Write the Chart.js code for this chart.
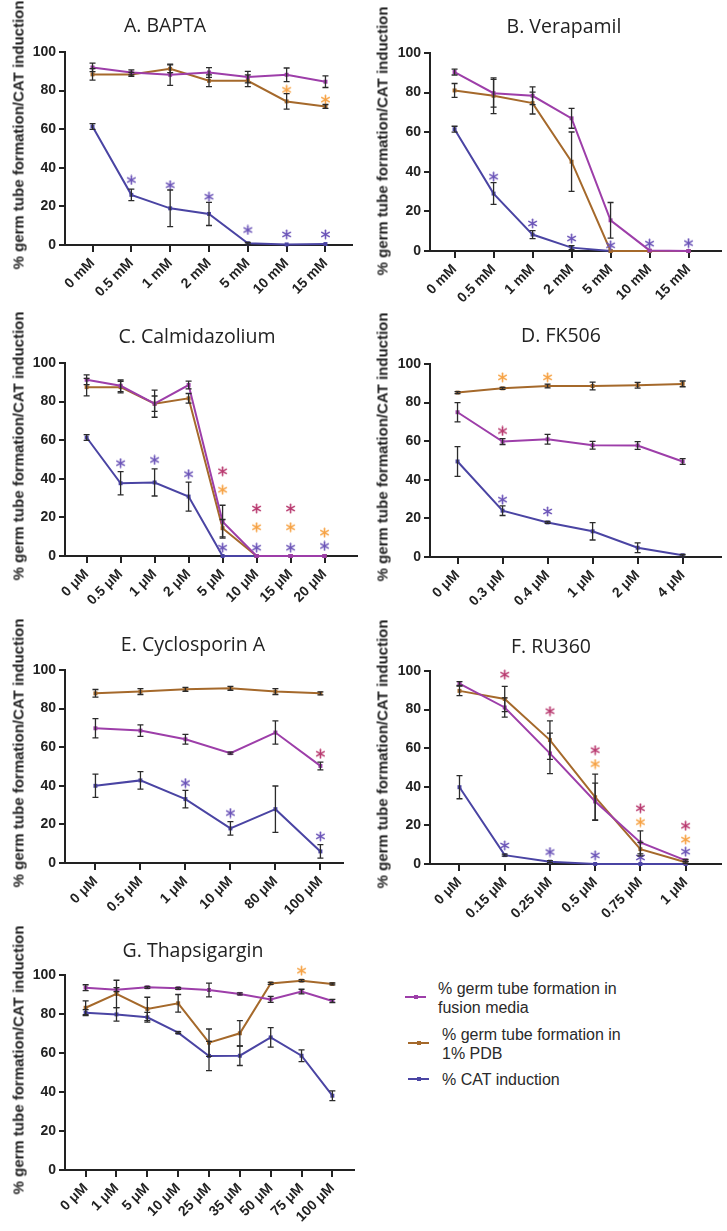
<!DOCTYPE html>
<html><head><meta charset="utf-8">
<script src="https://cdn.jsdelivr.net/npm/chart.js@4.4.1/dist/chart.umd.min.js"></script>
<style>
html,body{margin:0;padding:0;background:#fff;}
body{width:727px;height:1231px;position:relative;overflow:hidden;font-family:"Liberation Sans",Arial,sans-serif;}
.cv{position:absolute;}
.title{position:absolute;font-family:"Open Sans",sans-serif;font-size:19.5px;color:#222;transform:translate(-50%,-50%);white-space:nowrap;}
.ylab{position:absolute;font-weight:bold;font-size:15px;color:#222;white-space:nowrap;transform:translate(-50%,-50%) rotate(-90deg);}
.legtxt{position:absolute;font-size:16px;line-height:19px;color:#2a2a2a;white-space:nowrap;}
.legline{position:absolute;height:2px;width:21px;}
.legpt{position:absolute;width:4px;height:4px;left:8.5px;top:-1px;}
</style>
</head><body>
<script>
// ---------- DATA ----------
const yTicks = [0, 20, 40, 60, 80, 100];
const yAxisTitle = '% germ tube formation/CAT induction';

// A. BAPTA
const catsA = ['0 mM','0.5 mM','1 mM','2 mM','5 mM','10 mM','15 mM'];
const fusA = [92.0, 89.4, 88.2, 89.4, 87.0, 88.2, 84.6];
const fusA_err = [2.2, 1.3, 5.5, 2.5, 3, 3.5, 3];
const pdbA = [88.4, 88.4, 91.3, 85.1, 85.1, 74.4, 71.8];
const pdbA_err = [3, 1, 2, 3, 3, 4, 1];
const catA = [61.4, 26, 19, 16.1, 0.9, 0.3, 0.5];
const catA_err = [1.5, 3, 9.5, 6, 0.5, 0, 0];
const starFusA = [null, null, null, null, null, null, null];
const starPdbA = [null, null, null, null, null, 80.4, 75.3];
const starCatA = [null, 33.7, 31, 25, 7.8, 5.5, 5.5];

// B. Verapamil
const catsB = ['0 mM','0.5 mM','1 mM','2 mM','5 mM','10 mM','15 mM'];
const fusB = [90.4, 79.7, 78.4, 67, 15.5, 0.3, 0];
const fusB_err = [1.5, 7, 4.5, 5, 9, 0, 0];
const pdbB = [81.1, 78.4, 74.7, 45.1, 0, 0, 0];
const pdbB_err = [3.5, 9, 5.5, 15, 0, 0, 0];
const catB = [61.5, 29, 8.3, 1.7, 0, 0, 0];
const catB_err = [1.5, 5.5, 2, 1, 0, 0, 0];
const starFusB = [null, null, null, null, null, null, null];
const starPdbB = [null, null, null, null, null, null, null];
const starCatB = [null, 37.5, 13.9, 6.3, 2.9, 3.7, 4];

// C. Calmidazolium
const catsC = ['0 μM','0.5 μM','1 μM','2 μM','5 μM','10 μM','15 μM','20 μM'];
const fusC = [91.3, 88.2, 78.9, 88.6, 17.8, 0, 0, 0];
const fusC_err = [2.5, 3, 7, 2, 8.5, 0, 0, 0];
const pdbC = [87.5, 87.5, 78.9, 81.7, 14.4, 0, 0, 0];
const pdbC_err = [4.5, 3, 4, 2.5, 4.5, 0, 0, 0];
const catC = [61.4, 37.7, 38.1, 30.8, 0, 0, 0, 0];
const catC_err = [1.5, 6, 7, 7.5, 0, 0, 0, 0];
const starFusC = [null, null, null, null, 43.9, 24.6, 24.6, null];
const starPdbC = [null, null, null, null, 34.3, 14.9, 14.9, 12.1];
const starCatC = [null, 48.1, 49.8, 42.4, 4.3, 4.3, 4.3, 5.2];

// D. FK506
const catsD = ['0 μM','0.3 μM','0.4 μM','1 μM','2 μM','4 μM'];
const fusD = [75, 59.8, 61, 57.9, 57.8, 49.5];
const fusD_err = [5, 1.5, 2.5, 2, 2, 1.5];
const pdbD = [85.2, 87.4, 88.6, 88.6, 89, 89.7];
const pdbD_err = [0.5, 0.5, 1, 2, 1.5, 1.5];
const catD = [49.5, 24, 17.9, 13.3, 4.8, 0.9];
const catD_err = [7.7, 2.5, 0.5, 4.5, 2.5, 0.5];
const starFusD = [null, 65.3, null, null, null, null];
const starPdbD = [null, 93.1, 93.1, null, null, null];
const starCatD = [null, 29.7, 23.6, null, null, null];

// E. Cyclosporin A
const catsE = ['0 μM','0.5 μM','1 μM','10 μM','80 μM','100 μM'];
const fusE = [69.8, 68.6, 64.1, 56.9, 67.6, 50.3];
const fusE_err = [5, 3, 2.5, 0.5, 6, 2];
const pdbE = [87.9, 88.8, 90, 90.5, 88.8, 87.9];
const pdbE_err = [2, 1.5, 1, 1, 1.5, 0.8];
const catE = [40, 42.8, 33.1, 17.9, 27.9, 6];
const catE_err = [6, 4.5, 4.5, 3.5, 12, 3.5];
const starFusE = [null, null, null, null, null, 56.6];
const starPdbE = [null, null, null, null, null, null];
const starCatE = [null, null, 41.4, 25.9, null, 13.8];

// F. RU360
const catsF = ['0 μM','0.15 μM','0.25 μM','0.5 μM','0.75 μM','1 μM'];
const fusF = [93.5, 81.1, 57.3, 32.4, 11.2, 1.9];
const fusF_err = [1, 5, 10.5, 9.5, 6, 0.5];
const pdbF = [89.7, 85.5, 64.2, 34.6, 7.7, 0.9];
const pdbF_err = [2.5, 6.5, 10, 12, 3.5, 0.5];
const catF = [39.8, 4.6, 1.2, 0, 0, 0];
const catF_err = [6, 0.5, 0.5, 0, 0, 0];
const starFusF = [null, 98.1, 79.2, 59, 28.9, 19.8];
const starPdbF = [null, null, null, 51.8, 21.7, 12.6];
const starCatF = [null, 9.6, 6.2, 4.5, 3.4, 6.4];

// G. Thapsigargin
const catsG = ['0 μM','1 μM','5 μM','10 μM','25 μM','35 μM','50 μM','75 μM','100 μM'];
const fusG = [93.5, 92.5, 93.7, 93.2, 92.3, 90.3, 87.5, 91.5, 86.7];
const fusG_err = [1.5, 1, 0.5, 0.5, 3.5, 0.5, 1.5, 1.2, 0.8];
const pdbG = [83.2, 90.3, 82.6, 85.5, 65.3, 70.1, 95.7, 97.1, 95.4];
const pdbG_err = [3.5, 7, 6, 4.5, 7, 6.5, 0.5, 0.5, 0.5];
const catG = [80.7, 79.8, 78.3, 70.4, 58.5, 58.6, 68, 58.6, 38.1];
const catG_err = [1.5, 3.5, 2.5, 0.5, 7.5, 5, 5, 3, 2.5];
const starFusG = [null, null, null, null, null, null, null, null, null];
const starPdbG = [null, null, null, null, null, null, null, 102.2, null];
const starCatG = [null, null, null, null, null, null, null, null, null];

// ---------- STYLE / LAYOUT ----------
const COL = {fus:'#9d3ea9', pdb:'#a5692b', cat:'#4a44a3'};
const STAR = {fus:'#b8396f', pdb:'#f6a244', cat:'#6c55b8'};
const FONT = '"Liberation Sans", Arial, sans-serif';
const WY = 50, PT = 16;

// asterisk glyph used as point style
function asterisk(color){
  const c = document.createElement('canvas');
  c.width = 11; c.height = 11;
  const x = c.getContext('2d');
  x.strokeStyle = color; x.lineWidth = 1.6; x.lineCap = 'round';
  for (let k = 0; k < 3; k++){
    const a = Math.PI/2 + k*Math.PI/3;
    x.beginPath();
    x.moveTo(5.5 + 4.3*Math.cos(a), 5.5 + 4.3*Math.sin(a));
    x.lineTo(5.5 - 4.3*Math.cos(a), 5.5 - 4.3*Math.sin(a));
    x.stroke();
  }
  return c;
}
const STARIMG = {fus:asterisk(STAR.fus), pdb:asterisk(STAR.pdb), cat:asterisk(STAR.cat)};

const panels = [
  {title:'A. BAPTA', cats:catsA, s:[fusA,fusA_err,pdbA,pdbA_err,catA,catA_err,starFusA,starPdbA,starCatA],
   g:{L:65,R:357,top:52,bottom:245,x0:93,xn:330,tx:165,ty:24,lx:18,hx:68}},
  {title:'B. Verapamil', cats:catsB, s:[fusB,fusB_err,pdbB,pdbB_err,catB,catB_err,starFusB,starPdbB,starCatB],
   g:{L:430,R:726,top:53,bottom:251,x0:455,xn:693,tx:564,ty:25,lx:382,hx:68}},
  {title:'C. Calmidazolium', cats:catsC, s:[fusC,fusC_err,pdbC,pdbC_err,catC,catC_err,starFusC,starPdbC,starCatC],
   g:{L:65,R:362,top:363,bottom:556,x0:87,xn:329,tx:197,ty:335,lx:18,hx:68}},
  {title:'D. FK506', cats:catsD, s:[fusD,fusD_err,pdbD,pdbD_err,catD,catD_err,starFusD,starPdbD,starCatD],
   g:{L:430,R:726,top:364,bottom:557,x0:458,xn:687,tx:561,ty:334,lx:382,hx:68}},
  {title:'E. Cyclosporin A', cats:catsE, s:[fusE,fusE_err,pdbE,pdbE_err,catE,catE_err,starFusE,starPdbE,starCatE],
   g:{L:65,R:348,top:670,bottom:863,x0:96,xn:325,tx:193,ty:643,lx:18,hx:68}},
  {title:'F. RU360', cats:catsF, s:[fusF,fusF_err,pdbF,pdbF_err,catF,catF_err,starFusF,starPdbF,starCatF],
   g:{L:430,R:726,top:671,bottom:864,x0:460,xn:690,tx:551,ty:645,lx:382,hx:68}},
  {title:'G. Thapsigargin', cats:catsG, s:[fusG,fusG_err,pdbG,pdbG_err,catG,catG_err,starFusG,starPdbG,starCatG],
   g:{L:65,R:359,top:975,bottom:1170,x0:86,xn:337,tx:193,ty:949,lx:18,hx:58}}
];

const errorBars = {
  id:'errorBars',
  afterDatasetsDraw(chart){
    const {ctx} = chart, x = chart.scales.x, y = chart.scales.y;
    ctx.save();
    ctx.strokeStyle = '#2b2b2b'; ctx.lineWidth = 1.3;
    chart.data.datasets.forEach(ds => {
      if (!ds.errors) return;
      ds.data.forEach((p, i) => {
        const e = ds.errors[i];
        if (!e) return;
        const px = x.getPixelForValue(p.x);
        const y1 = y.getPixelForValue(p.y + e);
        const y2 = y.getPixelForValue(Math.max(0, p.y - e));
        ctx.beginPath();
        ctx.moveTo(px, y1); ctx.lineTo(px, y2);
        ctx.moveTo(px - 3, y1); ctx.lineTo(px + 3, y1);
        ctx.moveTo(px - 3, y2); ctx.lineTo(px + 3, y2);
        ctx.stroke();
      });
    });
    ctx.restore();
  }
};

function pts(arr){ return arr.map((v,i)=> v==null ? null : {x:i, y:v}).filter(p => p); }
function lineDs(arr, err, color){
  return {data:pts(arr), errors:err, borderColor:color, backgroundColor:color, borderWidth:2,
          pointStyle:'rect', pointRadius:2.8, pointBorderWidth:0, tension:0, clip:false, order:1};
}
function starDs(arr, img, color){
  return {data:pts(arr), showLine:false, borderColor:color, backgroundColor:color,
          pointStyle:img, pointRadius:5, clip:false, order:-1};
}

panels.forEach(p => {
  const g = p.g, n = p.cats.length;
  const sp = (g.xn - g.x0) / (n - 1);
  const xmin = -(g.x0 - g.L) / sp;
  const xmax = (n - 1) + (g.R - g.xn) / sp;
  const w = g.R - g.L + WY + 1;
  const h = g.bottom - g.top + PT + g.hx;
  const div = document.createElement('div');
  div.className = 'cv';
  div.style.left = (g.L - WY) + 'px'; div.style.top = (g.top - PT) + 'px';
  div.style.width = w + 'px'; div.style.height = h + 'px';
  const cv = document.createElement('canvas');
  cv.width = w; cv.height = h; cv.style.width = w + 'px'; cv.style.height = h + 'px';
  div.appendChild(cv);
  document.body.appendChild(div);

  const t = document.createElement('div');
  t.className = 'title'; t.textContent = p.title;
  t.style.left = g.tx + 'px'; t.style.top = g.ty + 'px';
  document.body.appendChild(t);
  const yl = document.createElement('div');
  yl.className = 'ylab'; yl.textContent = yAxisTitle;
  yl.style.left = g.lx + 'px'; yl.style.top = (g.bottom - 110) + 'px';
  document.body.appendChild(yl);

  const [fus, fusE_, pdb, pdbE_, cat, catE_, sFus, sPdb, sCat] = p.s;
  const cats = p.cats;
  new Chart(cv, {
    type:'line',
    data:{datasets:[
      lineDs(fus, fusE_, COL.fus),
      lineDs(pdb, pdbE_, COL.pdb),
      lineDs(cat, catE_, COL.cat),
      starDs(sFus, STARIMG.fus, STAR.fus),
      starDs(sPdb, STARIMG.pdb, STAR.pdb),
      starDs(sCat, STARIMG.cat, STAR.cat)
    ]},
    options:{
      responsive:false, animation:false, devicePixelRatio:1,
      layout:{padding:{top:PT, right:1, left:0, bottom:0}},
      plugins:{legend:{display:false}, tooltip:{enabled:false}, title:{display:false}},
      scales:{
        x:{type:'linear', bounds:'data', min:xmin, max:xmax,
           afterBuildTicks: a => { a.ticks = cats.map((c,i)=>({value:i})); },
           afterFit: s => { s.height = g.hx; },
           grid:{drawOnChartArea:false, drawTicks:true, tickLength:7, color:'#222', lineWidth:2},
           border:{display:true, color:'#222', width:2},
           ticks:{autoSkip:false, minRotation:45, maxRotation:45, padding:3, color:'#222',
                  font:{family:FONT, size:14, weight:'bold'}, callback:(v)=> cats[v] !== undefined ? cats[v] : ''}},
        y:{type:'linear', min:0, max:100,
           afterBuildTicks: a => { a.ticks = yTicks.map(v=>({value:v})); },
           afterFit: s => { s.width = WY; },
           grid:{drawOnChartArea:false, drawTicks:true, tickLength:6, color:'#222', lineWidth:2},
           border:{display:true, color:'#222', width:2},
           ticks:{padding:3, color:'#222', font:{family:FONT, size:14, weight:'bold'}}}
      }
    },
    plugins:[errorBars]
  });
});

// ---------- LEGEND ----------
const legendItems = [
  {lines:['% germ tube formation in','fusion media'], color:COL.fus, lx:405, ly:997, tx:438, ty:978.5},
  {lines:['% germ tube formation in','1% PDB'], color:COL.pdb, lx:408, ly:1043, tx:442, ty:1024.5},
  {lines:['% CAT induction'], color:COL.cat, lx:408, ly:1079, tx:442, ty:1069.5}
];
legendItems.forEach(it => {
  const l = document.createElement('div');
  l.className = 'legline'; l.style.background = it.color;
  l.style.left = it.lx + 'px'; l.style.top = (it.ly - 1) + 'px';
  const pt = document.createElement('div');
  pt.className = 'legpt'; pt.style.background = it.color;
  l.appendChild(pt);
  document.body.appendChild(l);
  const t = document.createElement('div');
  t.className = 'legtxt'; t.innerHTML = it.lines.join('<br>');
  t.style.left = it.tx + 'px'; t.style.top = it.ty + 'px';
  document.body.appendChild(t);
});
</script>
</body></html>
